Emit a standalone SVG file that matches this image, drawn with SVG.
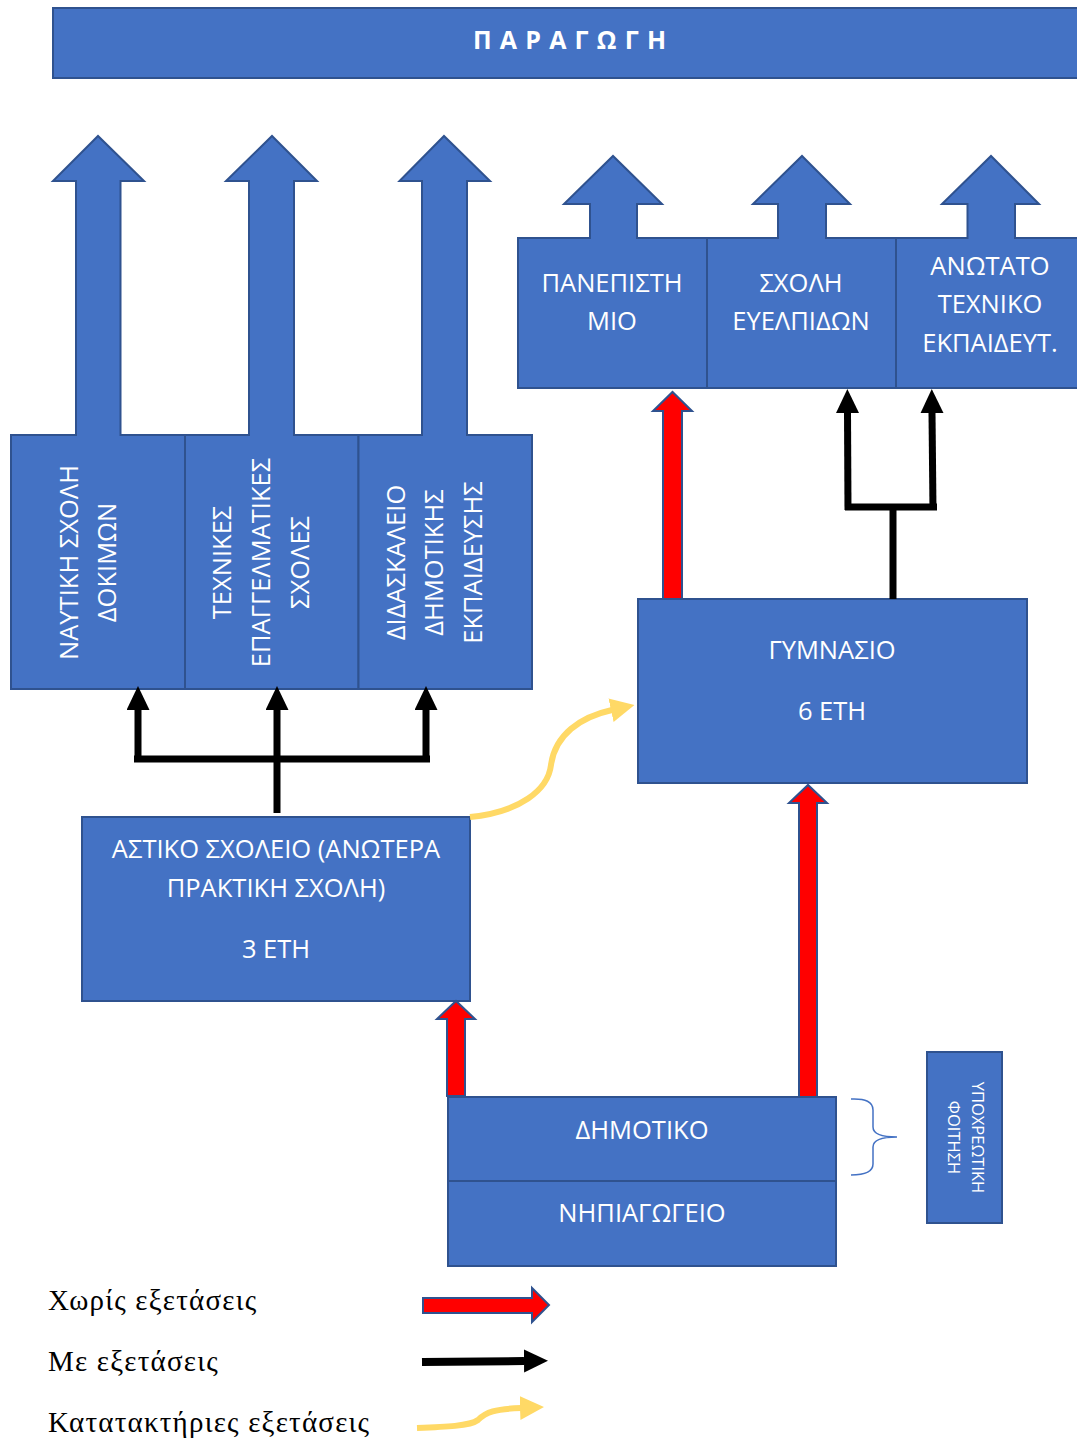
<svg xmlns="http://www.w3.org/2000/svg" width="1077" height="1441" viewBox="0 0 1077 1441">
<style>
.box{fill:#4472C4;stroke:#2F528F;stroke-width:2}
.t{font-family:"Open Sans","Noto Sans",sans-serif;font-size:25.5px;fill:#fff;text-anchor:middle}
.ts{font-family:"Open Sans","Noto Sans",sans-serif;font-size:16.5px;fill:#fff;text-anchor:middle}
.ban{font-family:"Open Sans","Noto Sans",sans-serif;font-size:25px;font-weight:bold;fill:#fff;letter-spacing:8.2px}
.red{fill:#FF0000;stroke:#2F528F;stroke-width:2}
.blk{fill:none;stroke:#000;stroke-width:7}
.yel{fill:none;stroke:#FFD966;stroke-width:6}
.brace{fill:none;stroke:#4472C4;stroke-width:1.5}
.leg{font-family:"Liberation Serif","Times New Roman",serif;font-size:29px;letter-spacing:1.2px;fill:#000}
</style>
<defs>
<marker id="ah" markerUnits="userSpaceOnUse" markerWidth="24" markerHeight="24" refX="0" refY="11.5" orient="auto">
<path d="M0,0 L24,11.5 L0,23 Z" fill="#000"/>
</marker>
<marker id="yh" markerUnits="userSpaceOnUse" markerWidth="24" markerHeight="26" refX="1" refY="12" orient="auto">
<path d="M0,0 L24,12 L0,24 Z" fill="#FFD966"/>
</marker>
</defs>
<rect width="1077" height="1441" fill="#fff"/>

<g id="paragogi">
<rect class="box" x="53" y="8" width="1040" height="70"/>
<text class="ban" x="473" y="49">ΠΑΡΑΓΩΓΗ</text>
</g>

<g id="naftiki">
<path class="box" d="M11,435 L76,435 L76,181 L53,181 L98,136 L144,181 L120.5,181 L120.5,435 L185,435 L185,689 L11,689 Z"/>
<text class="t" transform="translate(77.5,562.5) rotate(-90)">ΝΑΥΤΙΚΗ ΣΧΟΛΗ</text>
<text class="t" transform="translate(116.4,562.5) rotate(-90)">ΔΟΚΙΜΩΝ</text>
</g>
<g id="technikes">
<path class="box" d="M185,435 L249,435 L249,181 L226,181 L272,136 L317,181 L294,181 L294,435 L358.5,435 L358.5,689 L185,689 Z"/>
<text class="t" transform="translate(231.4,562.5) rotate(-90)">ΤΕΧΝΙΚΕΣ</text>
<text class="t" transform="translate(270.3,562.5) rotate(-90)">ΕΠΑΓΓΕΛΜΑΤΙΚΕΣ</text>
<text class="t" transform="translate(309,562.5) rotate(-90)">ΣΧΟΛΕΣ</text>
</g>
<g id="didaskaleio">
<path class="box" d="M358.5,435 L422,435 L422,181 L399.5,181 L444,136 L490,181 L467,181 L467,435 L532,435 L532,689 L358.5,689 Z"/>
<text class="t" transform="translate(404.6,562.5) rotate(-90)">ΔΙΔΑΣΚΑΛΕΙΟ</text>
<text class="t" transform="translate(443,562.5) rotate(-90)">ΔΗΜΟΤΙΚΗΣ</text>
<text class="t" transform="translate(482,562.5) rotate(-90)">ΕΚΠΑΙΔΕΥΣΗΣ</text>
</g>

<g id="panepistimio">
<path class="box" d="M518,238 L590,238 L590,204 L564,204 L613,156 L662,204 L637,204 L637,238 L707,238 L707,388 L518,388 Z"/>
<text class="t" x="612" y="292">ΠΑΝΕΠΙΣΤΗ</text>
<text class="t" x="612" y="330">ΜΙΟ</text>
</g>
<g id="evelpidon">
<path class="box" d="M707,238 L778,238 L778,204 L753,204 L802,156 L850,204 L826,204 L826,238 L896,238 L896,388 L707,388 Z"/>
<text class="t" x="801" y="292">ΣΧΟΛΗ</text>
<text class="t" x="801" y="330">ΕΥΕΛΠΙΔΩΝ</text>
</g>
<g id="anotato">
<path class="box" d="M896,238 L967.5,238 L967.5,204 L942,204 L991,156 L1039,204 L1015,204 L1015,238 L1090,238 L1090,388 L896,388 Z"/>
<text class="t" x="990" y="275">ΑΝΩΤΑΤΟ</text>
<text class="t" x="990" y="313">ΤΕΧΝΙΚΟ</text>
<text class="t" x="990" y="352">ΕΚΠΑΙΔΕΥΤ.</text>
</g>

<g id="gymnasio">
<rect class="box" x="638" y="599" width="389" height="184"/>
<text class="t" x="832" y="659">ΓΥΜΝΑΣΙΟ</text>
<text class="t" x="832" y="720">6 ΕΤΗ</text>
</g>

<g id="astiko">
<rect class="box" x="82" y="817" width="388" height="184"/>
<text class="t" x="276" y="858">ΑΣΤΙΚΟ ΣΧΟΛΕΙΟ (ΑΝΩΤΕΡΑ</text>
<text class="t" x="276" y="897">ΠΡΑΚΤΙΚΗ ΣΧΟΛΗ)</text>
<text class="t" x="276" y="958">3 ΕΤΗ</text>
</g>

<g id="dimotiko">
<rect class="box" x="448" y="1097" width="388" height="84"/>
<text class="t" x="642" y="1139">ΔΗΜΟΤΙΚΟ</text>
</g>
<g id="nipiagogeio">
<rect class="box" x="448" y="1181" width="388" height="85"/>
<text class="t" x="642" y="1222">ΝΗΠΙΑΓΩΓΕΙΟ</text>
</g>

<g id="ypochreotiki">
<path class="brace" d="M851,1099 Q873,1098 873,1110 L873,1127 Q873,1137 897,1137 Q873,1137 873,1147 L873,1164 Q873,1175 851,1175"/>
<rect class="box" x="927" y="1052" width="75" height="171"/>
<text class="ts" transform="translate(972,1137.5) rotate(90)">ΥΠΟΧΡΕΩΤΙΚΗ</text>
<text class="ts" transform="translate(947.5,1137.5) rotate(90)">ΦΟΙΤΗΣΗ</text>
</g>

<g id="connectors">
<path class="red" d="M663,599 L663,411 L653,411 L672.5,392 L692,411 L682,411 L682,599 Z"/>
<path class="red" d="M799,1097 L799,803 L789,803 L808,785 L827,803 L817,803 L817,1097 Z"/>
<path class="red" d="M447,1096 L447,1019 L437,1019 L456,1001 L475,1019 L465,1019 L465,1096 Z"/>

<path class="blk" d="M893,599 L893,507"/>
<path class="blk" d="M845,507 L937,507"/>
<path class="blk" d="M848,510 L847.5,413" marker-end="url(#ah)"/>
<path class="blk" d="M933,510 L932,413" marker-end="url(#ah)"/>

<path class="blk" d="M134,759 L430,759"/>
<path class="blk" d="M138,762 L138,710" marker-end="url(#ah)"/>
<path class="blk" d="M277,813 L277,710" marker-end="url(#ah)"/>
<path class="blk" d="M426,762 L426,710" marker-end="url(#ah)"/>

<path class="yel" d="M470,817 C520,812 548,790 551,765 C555,735 580,717 612,710" marker-end="url(#yh)"/>
</g>

<g id="legend">
<text class="leg" x="48" y="1310">Χωρίς εξετάσεις</text>
<text class="leg" x="48" y="1371">Με εξετάσεις</text>
<text class="leg" x="48" y="1432">Κατατακτήριες εξετάσεις</text>
<path class="red" d="M423,1298 L532,1298 L532,1288 L549,1305 L532,1322 L532,1313 L423,1313 Z"/>
<path class="blk" style="stroke-width:8" d="M422,1362 L524,1361" marker-end="url(#ah)"/>
<path class="yel" d="M417,1428 C445,1427 470,1426 478,1420 C486,1412 495,1409 521,1408" marker-end="url(#yh)"/>
</g>
</svg>
